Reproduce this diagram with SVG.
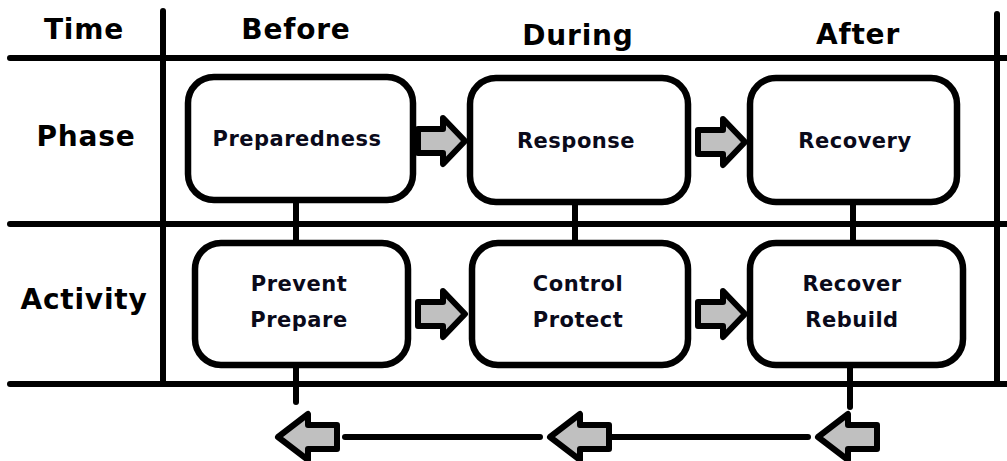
<svg xmlns="http://www.w3.org/2000/svg" xmlns:xlink="http://www.w3.org/1999/xlink" width="1007" height="461" viewBox="0 0 1007 461">
<style>
.ln{stroke:#000;stroke-width:6;stroke-linecap:round;fill:none}
.box{fill:#fff;stroke:#000;stroke-width:6.5}
.arr{fill:#c0c0c0;stroke:#000;stroke-width:6;stroke-linejoin:round}
.hd{font-family:"DejaVu Sans",Verdana,sans-serif;font-weight:bold;font-size:28px;letter-spacing:0.8px;fill:#000;text-anchor:middle}
.lb{font-family:"DejaVu Sans",Verdana,sans-serif;font-weight:bold;font-size:21px;letter-spacing:0.5px;fill:#0a0a1a;text-anchor:middle}
</style>
<defs>
<path id="ra" d="M-47,-12 L-22,-12 L-22,-23 L0,0 L-22,23 L-22,12 L-47,12 Z"/>
<path id="la" d="M0,0 L30,-23 L30,-12 L59,-12 L59,12 L30,12 L30,23 Z"/>
</defs>
<rect width="1007" height="461" fill="#fff"/>
<g id="grid">
<line class="ln" x1="10" y1="58" x2="1007" y2="58"/>
<line class="ln" x1="10" y1="224" x2="1007" y2="224"/>
<line class="ln" x1="10" y1="384" x2="1007" y2="384"/>
<line class="ln" x1="163" y1="11" x2="163" y2="384"/>
<line class="ln" x1="997" y1="14" x2="997" y2="384"/>
</g>
<g id="headers">
<text class="hd" x="84" y="39">Time</text>
<text class="hd" x="296" y="39">Before</text>
<text class="hd" x="578" y="45">During</text>
<text class="hd" x="858" y="44">After</text>
<text class="hd" x="86" y="146">Phase</text>
<text class="hd" x="84" y="309">Activity</text>
</g>
<g id="connectors">
<line class="ln" x1="296" y1="200" x2="296" y2="243"/>
<line class="ln" x1="575" y1="202" x2="575" y2="243"/>
<line class="ln" x1="853" y1="202" x2="853" y2="243"/>
<line class="ln" x1="296" y1="365" x2="296" y2="402"/>
<line class="ln" x1="850" y1="365" x2="850" y2="407"/>
<line class="ln" x1="345" y1="437" x2="540" y2="437"/>
<line class="ln" x1="610" y1="437" x2="808" y2="437"/>
<use href="#ra" class="arr" x="465" y="141"/>
<use href="#ra" class="arr" x="745" y="142"/>
<use href="#ra" class="arr" x="465" y="314"/>
<use href="#ra" class="arr" x="745" y="314"/>
<use href="#la" class="arr" x="278" y="437"/>
<use href="#la" class="arr" x="550" y="437"/>
<use href="#la" class="arr" x="818" y="437"/>
</g>
<g id="preparedness">
<rect class="box" x="188" y="77" width="225" height="123" rx="26"/>
<text class="lb" x="297" y="146">Preparedness</text>
</g>
<g id="response">
<rect class="box" x="470" y="78" width="218" height="124" rx="26"/>
<text class="lb" x="576" y="148">Response</text>
</g>
<g id="recovery">
<rect class="box" x="750" y="78" width="207" height="124" rx="26"/>
<text class="lb" x="855" y="148">Recovery</text>
</g>
<g id="prevent">
<rect class="box" x="195" y="243" width="213" height="122" rx="26"/>
<text class="lb" x="299" y="291">Prevent</text>
<text class="lb" x="299" y="327">Prepare</text>
</g>
<g id="control">
<rect class="box" x="472" y="243" width="216" height="122" rx="26"/>
<text class="lb" x="578" y="291">Control</text>
<text class="lb" x="578" y="327">Protect</text>
</g>
<g id="recover">
<rect class="box" x="750" y="243" width="213" height="122" rx="26"/>
<text class="lb" x="852" y="291">Recover</text>
<text class="lb" x="852" y="327">Rebuild</text>
</g>
</svg>
